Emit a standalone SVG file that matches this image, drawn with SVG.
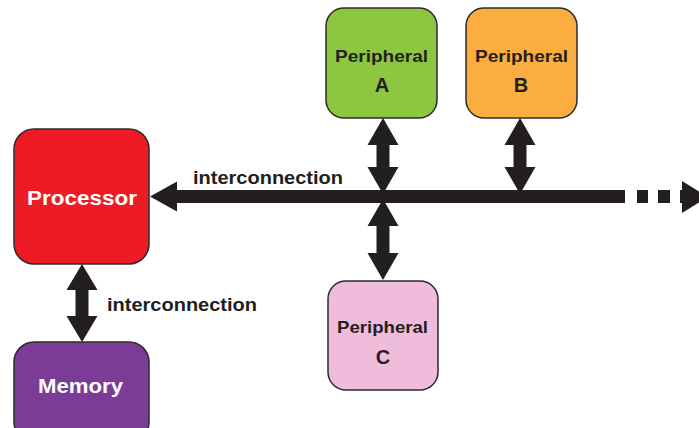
<svg xmlns="http://www.w3.org/2000/svg" width="699" height="428" viewBox="0 0 699 428">
<style>
.box{stroke:#2b2b2b;stroke-width:1.5}
.t{font-family:"Liberation Sans",Arial,sans-serif;font-weight:bold}
.dk{fill:#231f20}
.wh{fill:#ffffff}
.ar{fill:#231f20}
</style>
<rect width="699" height="428" fill="#ffffff"/>
<g id="connectors">
  <polygon class="ar" points="150,196.5 177,181.5 177,190 625,190 625,203 177,203 177,211.5"/>
  <rect class="ar" x="637" y="190" width="11" height="13"/>
  <rect class="ar" x="658" y="190" width="12" height="13"/>
  <rect class="ar" x="680" y="190" width="4" height="13"/>
  <polygon class="ar" points="682,181 708,197 682,213"/>
  <polygon class="ar" points="383,118 398.5,145 389.5,145 389.5,167 398.5,167 383,194 367.5,167 376.5,167 376.5,145 367.5,145"/>
  <polygon class="ar" points="520,118 535.5,145 526.5,145 526.5,167 535.5,167 520,194 504.5,167 513.5,167 513.5,145 504.5,145"/>
  <polygon class="ar" points="383,199 398.5,226 389.5,226 389.5,253 398.5,253 383,280 367.5,253 376.5,253 376.5,226 367.5,226"/>
  <polygon class="ar" points="82,264 97.5,290 88.5,290 88.5,316 97.5,316 82,342 66.5,316 75.5,316 75.5,290 66.5,290"/>
  <text class="t dk" x="193" y="184" font-size="18" textLength="150" lengthAdjust="spacingAndGlyphs">interconnection</text>
  <text class="t dk" x="107" y="311" font-size="18" textLength="150" lengthAdjust="spacingAndGlyphs">interconnection</text>
</g>
<g id="processor">
  <rect class="box" x="14" y="129" width="135" height="135" rx="20" fill="#ed1c24"/>
  <text class="t wh" x="27" y="205" font-size="20" textLength="110" lengthAdjust="spacingAndGlyphs">Processor</text>
</g>
<g id="memory">
  <rect class="box" x="14" y="342" width="135" height="100" rx="20" fill="#7b3c98"/>
  <text class="t wh" x="38" y="393" font-size="20" textLength="85" lengthAdjust="spacingAndGlyphs">Memory</text>
</g>
<g id="peripheralA">
  <rect class="box" x="326" y="8" width="111" height="110" rx="18" fill="#8dc63f"/>
  <text class="t dk" x="335" y="62" font-size="17" textLength="93" lengthAdjust="spacingAndGlyphs">Peripheral</text>
  <text class="t dk" x="382" y="92" font-size="20" text-anchor="middle">A</text>
</g>
<g id="peripheralB">
  <rect class="box" x="466" y="8" width="111" height="110" rx="18" fill="#fbad3f"/>
  <text class="t dk" x="475" y="62" font-size="17" textLength="93" lengthAdjust="spacingAndGlyphs">Peripheral</text>
  <text class="t dk" x="521" y="92" font-size="20" text-anchor="middle">B</text>
</g>
<g id="peripheralC">
  <rect class="box" x="328" y="281" width="110" height="109" rx="18" fill="#f0bcdb"/>
  <text class="t dk" x="337" y="333" font-size="17" textLength="91" lengthAdjust="spacingAndGlyphs">Peripheral</text>
  <text class="t dk" x="383" y="364" font-size="20" text-anchor="middle">C</text>
</g>
</svg>
